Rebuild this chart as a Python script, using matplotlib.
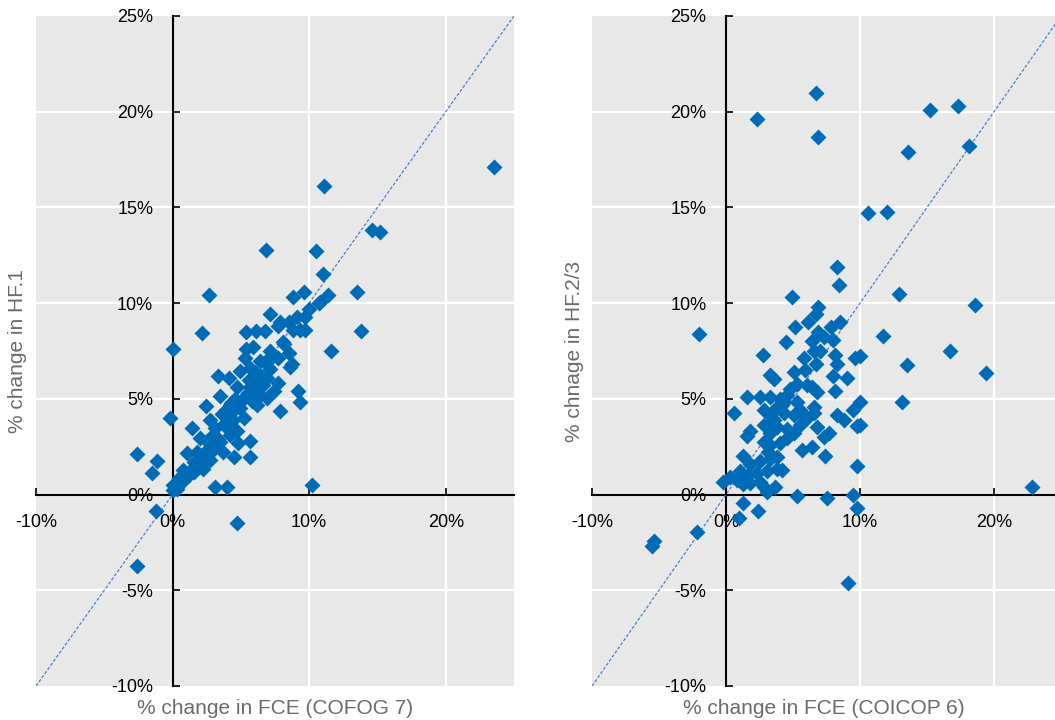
import numpy as np
import matplotlib
matplotlib.use("Agg")
import matplotlib.pyplot as plt
from matplotlib.ticker import FuncFormatter

plt.rcParams['font.family'] = ['Liberation Sans', 'DejaVu Sans']

# left panel: % change in FCE (COFOG 7) vs % change in HF.1
cofog_x = [23.5, 11.1, 14.6, 15.2, 6.85, 10.5, 11.0, 13.5, 2.7, 8.8, 9.6, 10.8, 11.4, 13.8,
           2.15, 11.6, 0.0, -0.2, -2.6, -1.15, -1.5, -1.2, -2.6, 4.7, 10.2, 3.1, 4.0, 0.0,
           0.3, 7.85, 9.2, 9.3, 8.75, 5.65, 4.5, 5.7, 1.4, 2.45, 3.35, 5.4, 6.1, 7.1, 7.85,
           8.15, 9.35, 9.7, 10.0,
           10.7, 6.8, 7.75, 8.5, 9.1, 8.85, 9.7, 8.1, 5.9, 7.15, 7.75, 8.5, 5.3, 6.4, 5.7,
           8.6, 4.95, 7.15, 6.9, 4.1, 7.75, 3.5, 4.7, 5.7, 6.4, 5.2, 7.4, 4.2, 4.95, 3.6,
           4.45, 5.2, 6.2, 6.9, 2.75, 3.1, 4.0, 4.7, 2.0, 2.75, 3.5, 4.2, 4.8, 1.05, 1.8,
           2.5, 3.0, 3.7, 1.55, 2.25, 2.75, 0.8, 1.55, 2.25, 0.45, 1.05, 0.05, 0.55, 4.0,
           4.5, 5.0, 5.5, 6.0, 6.5, 3.8, 4.3, 5.6, 6.8, 7.3, 3.0, 2.5, 3.3, 0.8, 1.2, 1.5,
           1.9, 2.2, 2.0, 5.4, 6.0, 4.6, 3.9, 5.8, 6.6]
hf1_y = [17.1, 16.1, 13.8, 13.7, 12.8, 12.7, 11.5, 10.6, 10.4, 10.3, 10.6, 10.05, 10.4, 8.55,
         8.45, 7.5, 7.6, 4.0, 2.1, 1.75, 1.15, -0.85, -3.75, -1.5, 0.5, 0.4, 0.4, 0.25,
         0.3, 4.35, 5.4, 4.85, 6.8, 1.95, 1.95, 2.8, 3.5, 4.65, 6.2, 8.5, 8.55, 9.45, 9.0,
         7.85, 8.6, 9.3, 9.7,
         10.0, 8.55, 8.8, 9.0, 9.3, 8.6, 8.6, 7.95, 7.7, 7.5, 7.15, 7.4, 7.15, 7.0, 6.6,
         6.65, 6.45, 6.55, 6.1, 6.1, 5.85, 5.15, 5.6, 5.6, 5.2, 5.05, 5.4, 4.7, 4.5, 4.2,
         3.9, 4.0, 4.7, 5.05, 3.9, 3.5, 3.5, 3.3, 2.95, 2.95, 2.75, 3.1, 2.7, 2.15, 2.25,
         2.35, 2.4, 2.25, 1.7, 1.65, 1.8, 1.3, 1.2, 1.35, 0.85, 0.95, 0.5, 0.6, 4.0,
         4.4, 4.9, 5.3, 5.7, 6.2, 3.7, 4.8, 6.0, 6.9, 7.2, 3.1, 2.8, 2.9, 0.7, 1.0, 1.4,
         1.9, 2.0, 1.5, 7.6, 6.4, 5.0, 4.4, 4.9, 5.7]

# right panel: % change in FCE (COICOP 6) vs % change in HF.2/3
coicop_x = [6.7, 2.3, 6.9, 15.2, 17.3, 18.1, 13.6, 10.6, 12.0, 8.3, 8.4, 12.9, 18.55, 4.95,
            -2.05, 11.7, 16.7, 13.5, 19.4, 13.1, 22.8, 9.1, -5.4, -5.55, -2.15, 0.95, 1.3,
            2.4, 5.3, 7.55, 9.5, 9.8, 9.8, 7.35, 6.4, 5.65, 7.65, 7.3, 10.0, 9.8, 9.5, 10.0,
            8.8, 8.3, 9.0, 8.15, 8.0, 8.3, 8.15, 9.65, 10.0, 8.0, 8.5, 7.8, 6.9, 6.7, 6.15,
            6.9, 7.3, 5.15, 4.5, 2.75, 5.8, 6.4, 6.55, 6.75, 7.05, 6.4, 6.8, 3.3, 3.55, 1.55,
            0.6, 2.55, 5.05, 5.3, 4.55, 4.3, 5.3, 6.05, 6.55, 6.55, 3.3, 3.8, 2.8, 3.3, 4.3,
            5.05, 5.55, 6.05, 6.8, 1.55, 1.8, 2.8, 3.3, 3.8, 4.55, 5.05, 5.55, 2.8, 3.3, 4.05,
            4.55, 1.3, 1.8, 2.55, 3.3, 3.8, 1.05, 1.65, 2.3, 3.05, 3.8, 4.15, -0.2, 0.3, 0.8,
            1.3, 1.8, 2.8, 3.05, 3.65, 2.55, 4.0, 4.8, 3.6, 4.2, 5.9, 3.1]
hf23_y = [21.0, 19.6, 18.7, 20.1, 20.3, 18.2, 17.9, 14.7, 14.75, 11.9, 10.95, 10.5, 9.9, 10.3,
          8.4, 8.3, 7.5, 6.75, 6.35, 4.85, 0.4, -4.6, -2.45, -2.7, -1.95, -1.2, -0.45,
          -0.85, -0.1, -0.2, 0.0, -0.7, 1.5, 2.0, 2.5, 2.35, 3.2, 3.0, 3.65, 3.6, 4.4, 4.85,
          3.9, 4.15, 6.1, 5.4, 6.2, 6.8, 7.3, 7.15, 7.25, 8.1, 9.0, 8.75, 9.8, 9.45, 9.0,
          8.5, 8.25, 8.75, 7.95, 7.3, 7.15, 8.0, 7.5, 6.8, 7.5, 5.6, 5.35, 6.25, 6.05, 5.1,
          4.25, 5.1, 6.4, 5.8, 5.2, 4.85, 4.85, 5.7, 4.6, 4.25, 5.1, 4.6, 4.4, 4.15, 4.25,
          4.15, 4.4, 4.0, 3.55, 3.05, 3.3, 3.65, 3.2, 3.55, 3.4, 3.2, 3.65, 2.75, 2.6, 2.7,
          2.95, 2.0, 1.6, 1.75, 1.85, 1.95, 1.25, 1.0, 1.15, 1.25, 1.35, 1.3, 0.65, 0.9, 0.75,
          0.55, 0.6, 0.4, 0.15, 0.4, 0.65, 5.0, 5.5, 3.9, 4.7, 6.5, 2.2]

x_ticks = [-10, 0, 10, 20]
y_ticks = [-10, -5, 0, 5, 10, 15, 20, 25]

blue = '#006BB6'
bg = '#E8E8E8'
label_grey = '#6B6B6B'

fig = plt.figure(figsize=(10.55, 7.2), dpi=100)
ax1 = fig.add_axes([36 / 1055, 34 / 720, 478 / 1055, 670 / 720])
ax2 = fig.add_axes([592 / 1055, 34 / 720, 463 / 1055, 670 / 720])

pct = FuncFormatter(lambda v, _: f"{v:.0f}%")


def style_panel(ax, xmax, xlabel, ylabel):
    ax.set_facecolor(bg)
    ax.set_xlim(-10, xmax)
    ax.set_ylim(-10, 25)
    ax.set_xticks(x_ticks)
    ax.set_yticks(y_ticks)
    ax.xaxis.set_major_formatter(pct)
    ax.yaxis.set_major_formatter(pct)
    # white grid lines (not on the zero axes)
    for v in [10, 20]:
        ax.axvline(v, color='white', lw=1.6, zorder=0.5)
    for v in [-5, 5, 10, 15, 20]:
        ax.axhline(v, color='white', lw=1.6, zorder=0.5)
    for s in ['top', 'right']:
        ax.spines[s].set_visible(False)
    ax.spines['left'].set_position(('data', 0))
    ax.spines['bottom'].set_position(('data', 0))
    for s in ['left', 'bottom']:
        ax.spines[s].set_linewidth(1.5)
        ax.spines[s].set_color('black')
        ax.spines[s].set_zorder(1)
    ax.tick_params(direction='in', length=5, width=1.2, labelsize=13, pad=14,
                   colors='black')
    ax.set_xlabel(xlabel, fontsize=15, color=label_grey, va='center')
    ax.xaxis.set_label_coords(0.5, -22 / 670)
    ax.set_ylabel(ylabel, fontsize=15, color=label_grey, va='center')
    ax.yaxis.set_label_coords(-18 / (ax.get_position().width * 1055), 0.5)
    ax.plot([-10, 25], [-10, 25], color='#4A7FD0', lw=0.9, ls=(0, (2.5, 1.5)), zorder=2)


style_panel(ax1, 25, '% change in FCE (COFOG 7)', '% change in HF.1')
style_panel(ax2, 24.55, '% change in FCE (COICOP 6)', '% chnage in HF.2/3')

ax1.plot(cofog_x, hf1_y, 'D', color=blue, ms=8, mec='none', zorder=3, clip_on=False)
ax2.plot(coicop_x, hf23_y, 'D', color=blue, ms=8, mec='none', zorder=3, clip_on=False)

fig.savefig('out.png', dpi=100)
